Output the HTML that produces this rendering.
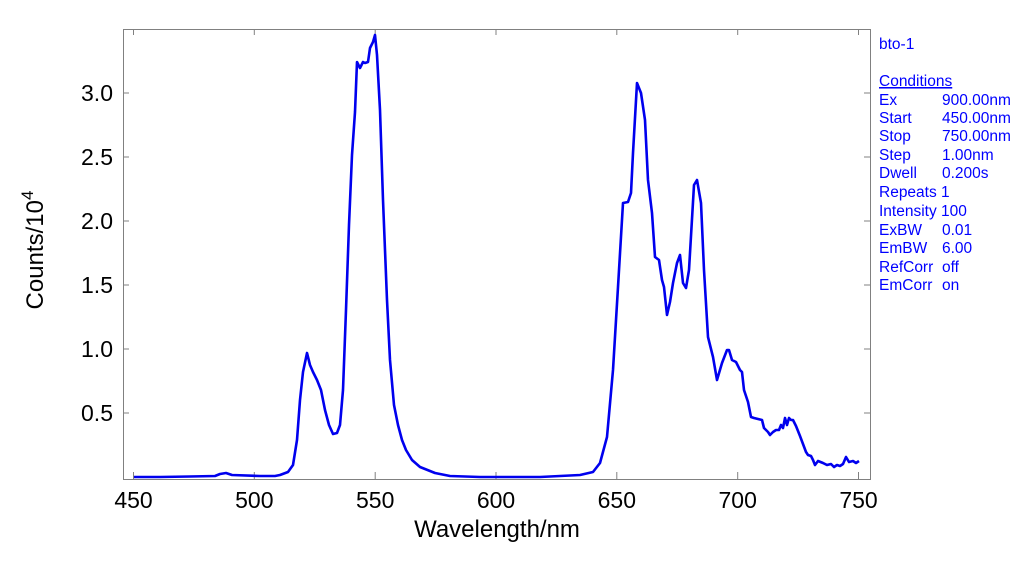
<!DOCTYPE html>
<html><head><meta charset="utf-8"><style>
body{margin:0;background:#fff;}
svg{display:block;font-family:"Liberation Sans",Arial,sans-serif;}
.t{font-size:23px;fill:#000;}
.p{font-size:15.5px;fill:#0000ff;}
</style></head><body>
<svg width="1024" height="575" viewBox="0 0 1024 575">
<rect x="123.5" y="29.5" width="747" height="450" fill="none" stroke="#808080" stroke-width="1"/>
<g stroke="#808080" stroke-width="1">
<line x1="133.5" y1="479" x2="133.5" y2="472"/><line x1="254.3" y1="479" x2="254.3" y2="472"/><line x1="375.2" y1="479" x2="375.2" y2="472"/><line x1="496" y1="479" x2="496" y2="472"/><line x1="616.8" y1="479" x2="616.8" y2="472"/><line x1="737.7" y1="479" x2="737.7" y2="472"/><line x1="858.5" y1="479" x2="858.5" y2="472"/>
<line x1="133.5" y1="29" x2="133.5" y2="35"/><line x1="254.3" y1="29" x2="254.3" y2="35"/><line x1="375.2" y1="29" x2="375.2" y2="35"/><line x1="496" y1="29" x2="496" y2="35"/><line x1="616.8" y1="29" x2="616.8" y2="35"/><line x1="737.7" y1="29" x2="737.7" y2="35"/><line x1="858.5" y1="29" x2="858.5" y2="35"/>
<line x1="123" y1="413" x2="129" y2="413"/><line x1="123" y1="349" x2="129" y2="349"/><line x1="123" y1="285" x2="129" y2="285"/><line x1="123" y1="221" x2="129" y2="221"/><line x1="123" y1="157" x2="129" y2="157"/><line x1="123" y1="93" x2="129" y2="93"/>
<line x1="871" y1="413" x2="864" y2="413"/><line x1="871" y1="349" x2="864" y2="349"/><line x1="871" y1="285" x2="864" y2="285"/><line x1="871" y1="221" x2="864" y2="221"/><line x1="871" y1="157" x2="864" y2="157"/><line x1="871" y1="93" x2="864" y2="93"/>
</g>
<g class="t" text-anchor="middle">
<text x="133.5" y="508">450</text><text x="254.3" y="508">500</text><text x="375.2" y="508">550</text><text x="496" y="508">600</text><text x="616.8" y="508">650</text><text x="737.7" y="508">700</text><text x="858.5" y="508">750</text>
</g>
<g class="t" text-anchor="end">
<text x="113" y="421">0.5</text><text x="113" y="357">1.0</text><text x="113" y="293">1.5</text><text x="113" y="229">2.0</text><text x="113" y="165">2.5</text><text x="113" y="101">3.0</text>
</g>
<text class="t" x="497" y="537" text-anchor="middle" style="font-size:24px">Wavelength/nm</text>
<text class="t" transform="translate(43,250) rotate(-90)" text-anchor="middle" style="font-size:24px">Counts/10<tspan dy="-10" style="font-size:17px">4</tspan></text>
<polyline fill="none" stroke="#0000ee" stroke-width="2.6" stroke-linejoin="round" points="134,477 160,477 190,476.5 215,476 220,474 226,473 232,475 260,476 275,476 280,475 288,472 293,465 297,440 300,400 303,372 307,353 310,365 313,372 317,380 321,390 325,410 329,425 333,434 337,433 340,425 343,390 346,310 349,225 352,155 355,112 357,62 360,68 363,62 365,63 368,62 370,48 373,42 375,35 377,55 380,110 383,200 387,300 390,360 394,405 398,425 402,440 406,450 412,460 420,467 435,473 450,476 480,477 540,477 580,475 593,472 600,463 607,437 613,370 618,287 623,203 628,202 631,193 633,153 637,83 641,93 645,120 648,180 652,213 655,257 659,260 662,280 664,287 667,315 670,302 673,283 677,263 680,255 683,283 686,288 689,270 694,185 697,180 701,203 704,270 708,337 713,357 717,380 722,363 727,350 729,350 732,360 736,362 740,370 742,372 744,390 748,402 751,417 754,418 758,419 762,420 764,428 768,432 770,435 773,432 776,430 779,430 781,425 783,428 785,418 787,425 789,418 791,420 793,420 796,426 800,436 803,444 806,452 808,455 811,456 813,460 815,465 818,461 823,463 827,465 831,464 834,467 837,465 840,466 843,464 846,457 849,462 853,461 856,463 859,461"/>
<g class="p">
<text x="879" y="49">bto-1</text>
<text x="879" y="86" text-decoration="underline">Conditions</text>
<text x="879" y="105">Ex</text><text x="942" y="105">900.00nm</text>
<text x="879" y="123">Start</text><text x="942" y="123">450.00nm</text>
<text x="879" y="141">Stop</text><text x="942" y="141">750.00nm</text>
<text x="879" y="160">Step</text><text x="942" y="160">1.00nm</text>
<text x="879" y="178">Dwell</text><text x="942" y="178">0.200s</text>
<text x="879" y="197">Repeats 1</text>
<text x="879" y="216">Intensity 100</text>
<text x="879" y="235">ExBW</text><text x="942" y="235">0.01</text>
<text x="879" y="253">EmBW</text><text x="942" y="253">6.00</text>
<text x="879" y="272">RefCorr</text><text x="942" y="272">off</text>
<text x="879" y="290">EmCorr</text><text x="942" y="290">on</text>
</g>
</svg>
</body></html>
